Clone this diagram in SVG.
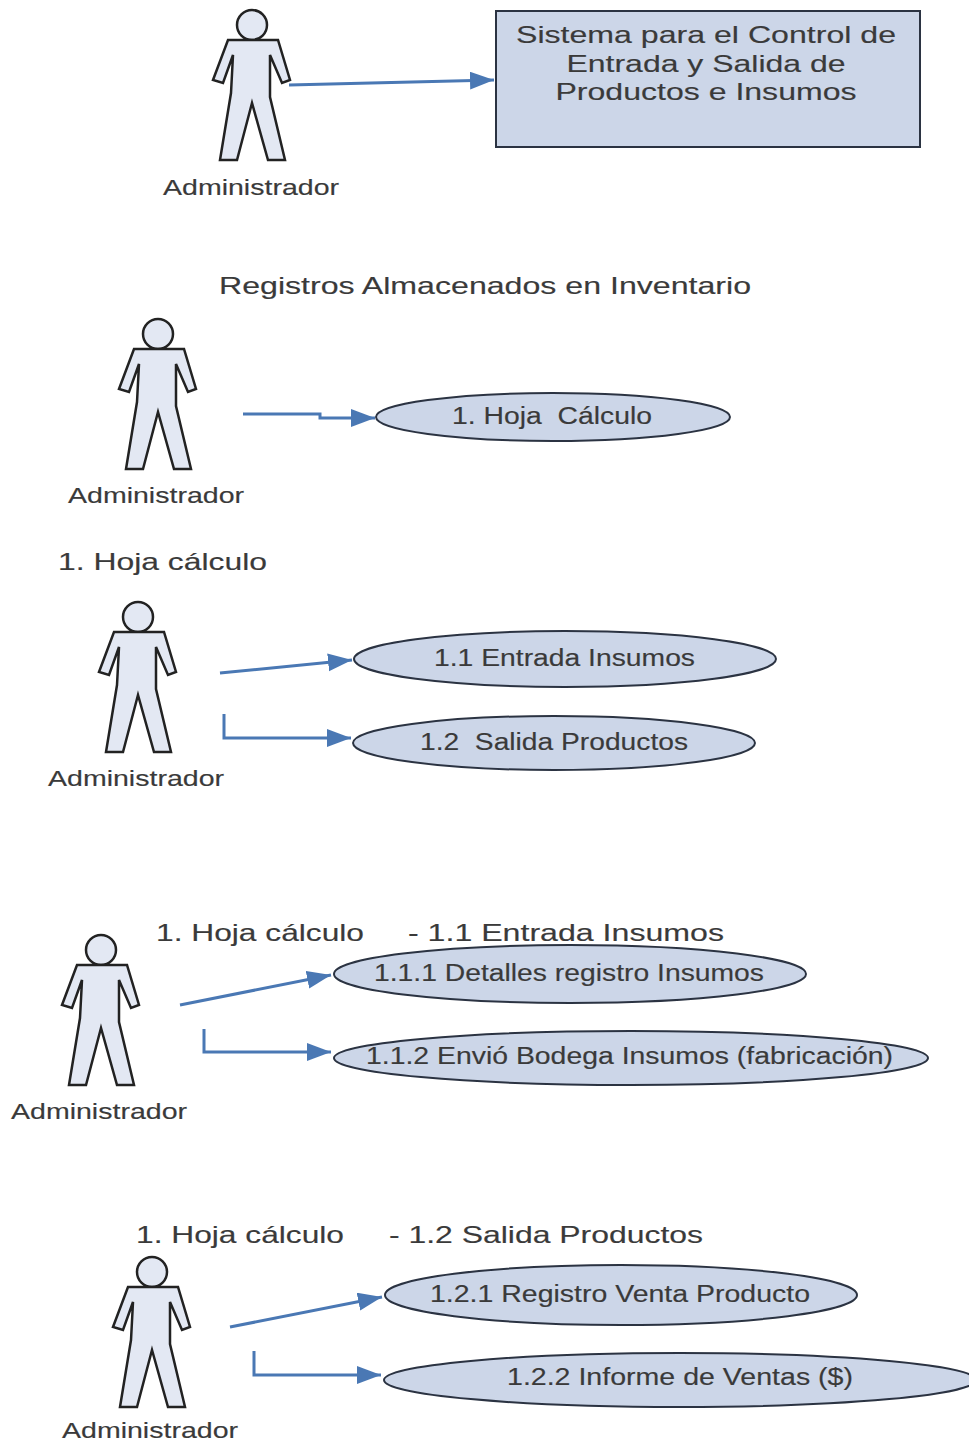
<svg xmlns="http://www.w3.org/2000/svg" width="969" height="1443" viewBox="0 0 969 1443">
<style>
text{font-family:"Liberation Sans",Arial,sans-serif;font-size:22px;fill:#3a3a3a;stroke:#3a3a3a;stroke-width:.15}
.t{font-size:24px}
.m{font-size:23px}
.b{fill:#ccd6e8;stroke:#2b3342;stroke-width:2}
.a{fill:#e3e8f3;stroke:#222;stroke-width:2.5;stroke-linejoin:miter}
.c{fill:none;stroke:#4a78b4;stroke-width:3}
</style>
<defs>
<marker id="ah" markerUnits="userSpaceOnUse" markerWidth="26" markerHeight="20" refX="24" refY="9" orient="auto"><path d="M0 0L24 9L0 18Z" fill="#4a78b4"/></marker>
<g id="actor"><circle cx="0" cy="0" r="15" class="a"/><path class="a" d="M-24 15H26L38 55L30 58L18 30V72L33 135H16L0 78L-15 135H-32L-21 68L-19 30L-29 58L-39 55Z"/></g>
</defs>
<g id="connectors">
<path class="c" marker-end="url(#ah)" d="M289 85L494 80"/>
<path class="c" marker-end="url(#ah)" d="M243 414H320V418H375"/>
<path class="c" marker-end="url(#ah)" d="M220 673L352 660"/>
<path class="c" marker-end="url(#ah)" d="M224 714V738H351"/>
<path class="c" marker-end="url(#ah)" d="M180 1005L331 975"/>
<path class="c" marker-end="url(#ah)" d="M204 1029V1052H331"/>
<path class="c" marker-end="url(#ah)" d="M230 1327L382 1297"/>
<path class="c" marker-end="url(#ah)" d="M254 1351V1375H381"/>
</g>
<g id="system"><rect class="b" x="496" y="11" width="424" height="136"/>
<text class="t" x="706" y="43" text-anchor="middle" textLength="380" lengthAdjust="spacingAndGlyphs">Sistema para el Control de</text>
<text class="t" x="706" y="72" text-anchor="middle" textLength="279" lengthAdjust="spacingAndGlyphs">Entrada y Salida de</text>
<text class="t" x="706" y="100" text-anchor="middle" textLength="301" lengthAdjust="spacingAndGlyphs">Productos e Insumos</text></g>
<g id="actor1"><use href="#actor" x="252" y="25"/><text x="163" y="195" textLength="176" lengthAdjust="spacingAndGlyphs">Administrador</text></g>
<text class="t" id="t1" x="219" y="294" textLength="532" lengthAdjust="spacingAndGlyphs">Registros Almacenados en Inventario</text>
<g id="actor2"><use href="#actor" x="158" y="334"/><text x="68" y="503" textLength="176" lengthAdjust="spacingAndGlyphs">Administrador</text></g>
<g id="uc1"><ellipse class="b" cx="553" cy="417" rx="177" ry="24"/><text class="m" x="452" y="424" textLength="200" lengthAdjust="spacingAndGlyphs" xml:space="preserve">1. Hoja  Cálculo</text></g>
<text class="t" id="t2" x="58" y="570" textLength="209" lengthAdjust="spacingAndGlyphs">1. Hoja cálculo</text>
<g id="actor3"><use href="#actor" x="138" y="617"/><text x="48" y="786" textLength="176" lengthAdjust="spacingAndGlyphs">Administrador</text></g>
<g id="uc11"><ellipse class="b" cx="565" cy="659" rx="211" ry="28"/><text class="m" x="434" y="666" textLength="261" lengthAdjust="spacingAndGlyphs">1.1 Entrada Insumos</text></g>
<g id="uc12"><ellipse class="b" cx="554" cy="743" rx="201" ry="27"/><text class="m" x="420" y="750" textLength="268" lengthAdjust="spacingAndGlyphs" xml:space="preserve">1.2  Salida Productos</text></g>
<text class="t" id="t3" x="156" y="941" textLength="208" lengthAdjust="spacingAndGlyphs">1. Hoja cálculo</text>
<text class="t" id="t4" x="408" y="941" textLength="316" lengthAdjust="spacingAndGlyphs">- 1.1 Entrada Insumos</text>
<g id="actor4"><use href="#actor" x="101" y="950"/><text x="11" y="1119" textLength="176" lengthAdjust="spacingAndGlyphs">Administrador</text></g>
<g id="uc111"><ellipse class="b" cx="570" cy="974" rx="236" ry="29"/><text class="m" x="374" y="981" textLength="390" lengthAdjust="spacingAndGlyphs">1.1.1 Detalles registro Insumos</text></g>
<g id="uc112"><ellipse class="b" cx="631" cy="1058" rx="297" ry="27"/><text class="m" x="366" y="1064" textLength="527" lengthAdjust="spacingAndGlyphs">1.1.2 Envió Bodega Insumos (fabricación)</text></g>
<text class="t" id="t5" x="136" y="1243" textLength="208" lengthAdjust="spacingAndGlyphs">1. Hoja cálculo</text>
<text class="t" id="t6" x="389" y="1243" textLength="314" lengthAdjust="spacingAndGlyphs">- 1.2 Salida Productos</text>
<g id="actor5"><use href="#actor" x="152" y="1272"/><text x="62" y="1438" textLength="176" lengthAdjust="spacingAndGlyphs">Administrador</text></g>
<g id="uc121"><ellipse class="b" cx="621" cy="1295" rx="236" ry="30"/><text class="m" x="430" y="1302" textLength="380" lengthAdjust="spacingAndGlyphs">1.2.1 Registro Venta Producto</text></g>
<g id="uc122"><ellipse class="b" cx="680" cy="1380" rx="296" ry="27"/><text class="m" x="507" y="1385" textLength="346" lengthAdjust="spacingAndGlyphs">1.2.2 Informe de Ventas ($)</text></g>
</svg>
